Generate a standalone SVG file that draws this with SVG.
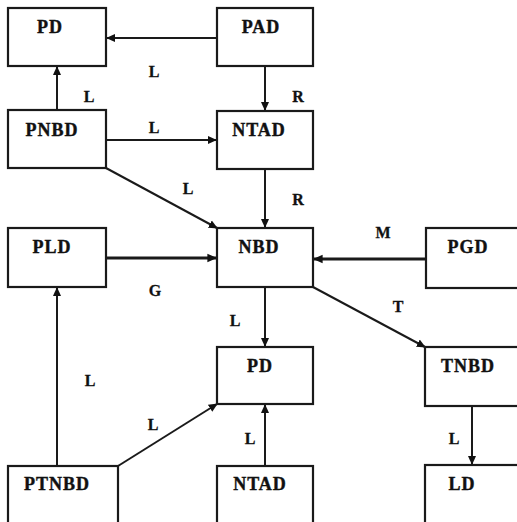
<svg xmlns="http://www.w3.org/2000/svg" width="517" height="522" viewBox="0 0 517 522">
<defs>
<marker id="ah" viewBox="0 0 10 10" refX="9" refY="5" markerWidth="4.5" markerHeight="4.5" orient="auto" markerUnits="strokeWidth">
<path d="M0,0.5 L10,5 L0,9.5 Z" fill="#111"/>
</marker>
<marker id="ahT" viewBox="0 0 10 10" refX="9" refY="5" markerWidth="3" markerHeight="3" orient="auto" markerUnits="strokeWidth">
<path d="M0,0.5 L10,5 L0,9.5 Z" fill="#111"/>
</marker>
</defs>
<style>
.box{fill:#fff;stroke:#1a1a1a;stroke-width:2.2}
.nt{font-family:"Liberation Serif","Times New Roman",serif;font-weight:bold;font-size:18px;letter-spacing:1px;fill:#111;stroke:#111;stroke-width:0.4;text-anchor:middle}
.lb{font-family:"Liberation Serif","Times New Roman",serif;font-weight:bold;font-size:16px;fill:#111;stroke:#111;stroke-width:0.3;text-anchor:middle}
.c{fill:none;stroke:#1a1a1a;stroke-width:2;marker-end:url(#ah)}
.ct{fill:none;stroke:#1a1a1a;stroke-width:3.2;marker-end:url(#ahT)}
</style>
<rect width="517" height="522" fill="#fff"/>
<g id="connectors">
<line class="c" x1="217" y1="38" x2="107" y2="38"/>
<line class="c" x1="57" y1="110" x2="57" y2="67"/>
<line class="c" x1="265" y1="66" x2="265" y2="110"/>
<line class="c" x1="106" y1="140" x2="216" y2="140"/>
<line class="c" x1="106" y1="168" x2="217" y2="228"/>
<line class="c" x1="265" y1="169" x2="265" y2="227"/>
<line class="ct" x1="106" y1="258" x2="216" y2="258"/>
<line class="ct" x1="426" y1="259" x2="314" y2="259"/>
<line class="c" x1="313" y1="287" x2="425" y2="347"/>
<line class="c" x1="265" y1="287" x2="265" y2="346"/>
<line class="c" x1="57" y1="466" x2="57" y2="288"/>
<line class="c" x1="118" y1="466" x2="217" y2="404"/>
<line class="c" x1="265" y1="466" x2="265" y2="405"/>
<line class="c" x1="472" y1="406" x2="472" y2="464"/>
</g>
<g id="labels">
<text class="lb" x="154" y="77">L</text>
<text class="lb" x="89" y="102">L</text>
<text class="lb" x="154" y="133">L</text>
<text class="lb" x="298" y="102">R</text>
<text class="lb" x="188" y="194">L</text>
<text class="lb" x="298" y="205">R</text>
<text class="lb" x="383" y="238">M</text>
<text class="lb" x="155" y="296">G</text>
<text class="lb" x="398" y="312">T</text>
<text class="lb" x="235" y="326">L</text>
<text class="lb" x="90" y="386">L</text>
<text class="lb" x="153" y="430">L</text>
<text class="lb" x="250" y="444">L</text>
<text class="lb" x="454" y="444">L</text>
</g>
<g id="n-pd1"><rect class="box" x="8" y="8" width="98" height="58"/><text class="nt" x="50" y="33">PD</text></g>
<g id="n-pad"><rect class="box" x="217" y="8" width="96" height="58"/><text class="nt" x="261" y="33">PAD</text></g>
<g id="n-pnbd"><rect class="box" x="8" y="110" width="98" height="58"/><text class="nt" x="52" y="136">PNBD</text></g>
<g id="n-ntad1"><rect class="box" x="217" y="111" width="96" height="58"/><text class="nt" x="259" y="136">NTAD</text></g>
<g id="n-pld"><rect class="box" x="8" y="228" width="98" height="59"/><text class="nt" x="52" y="253">PLD</text></g>
<g id="n-nbd"><rect class="box" x="217" y="228" width="96" height="59"/><text class="nt" x="259" y="253">NBD</text></g>
<g id="n-pgd"><rect class="box" x="426" y="228" width="95" height="60"/><text class="nt" x="468" y="253">PGD</text></g>
<g id="n-pd2"><rect class="box" x="217" y="347" width="96" height="57"/><text class="nt" x="260" y="372">PD</text></g>
<g id="n-tnbd"><rect class="box" x="425" y="347" width="96" height="59"/><text class="nt" x="468" y="372">TNBD</text></g>
<g id="n-ptnbd"><rect class="box" x="8" y="466" width="110" height="60"/><text class="nt" x="57" y="490">PTNBD</text></g>
<g id="n-ntad2"><rect class="box" x="217" y="466" width="96" height="60"/><text class="nt" x="260" y="490">NTAD</text></g>
<g id="n-ld"><rect class="box" x="425" y="465" width="96" height="61"/><text class="nt" x="462" y="490">LD</text></g>
</svg>
